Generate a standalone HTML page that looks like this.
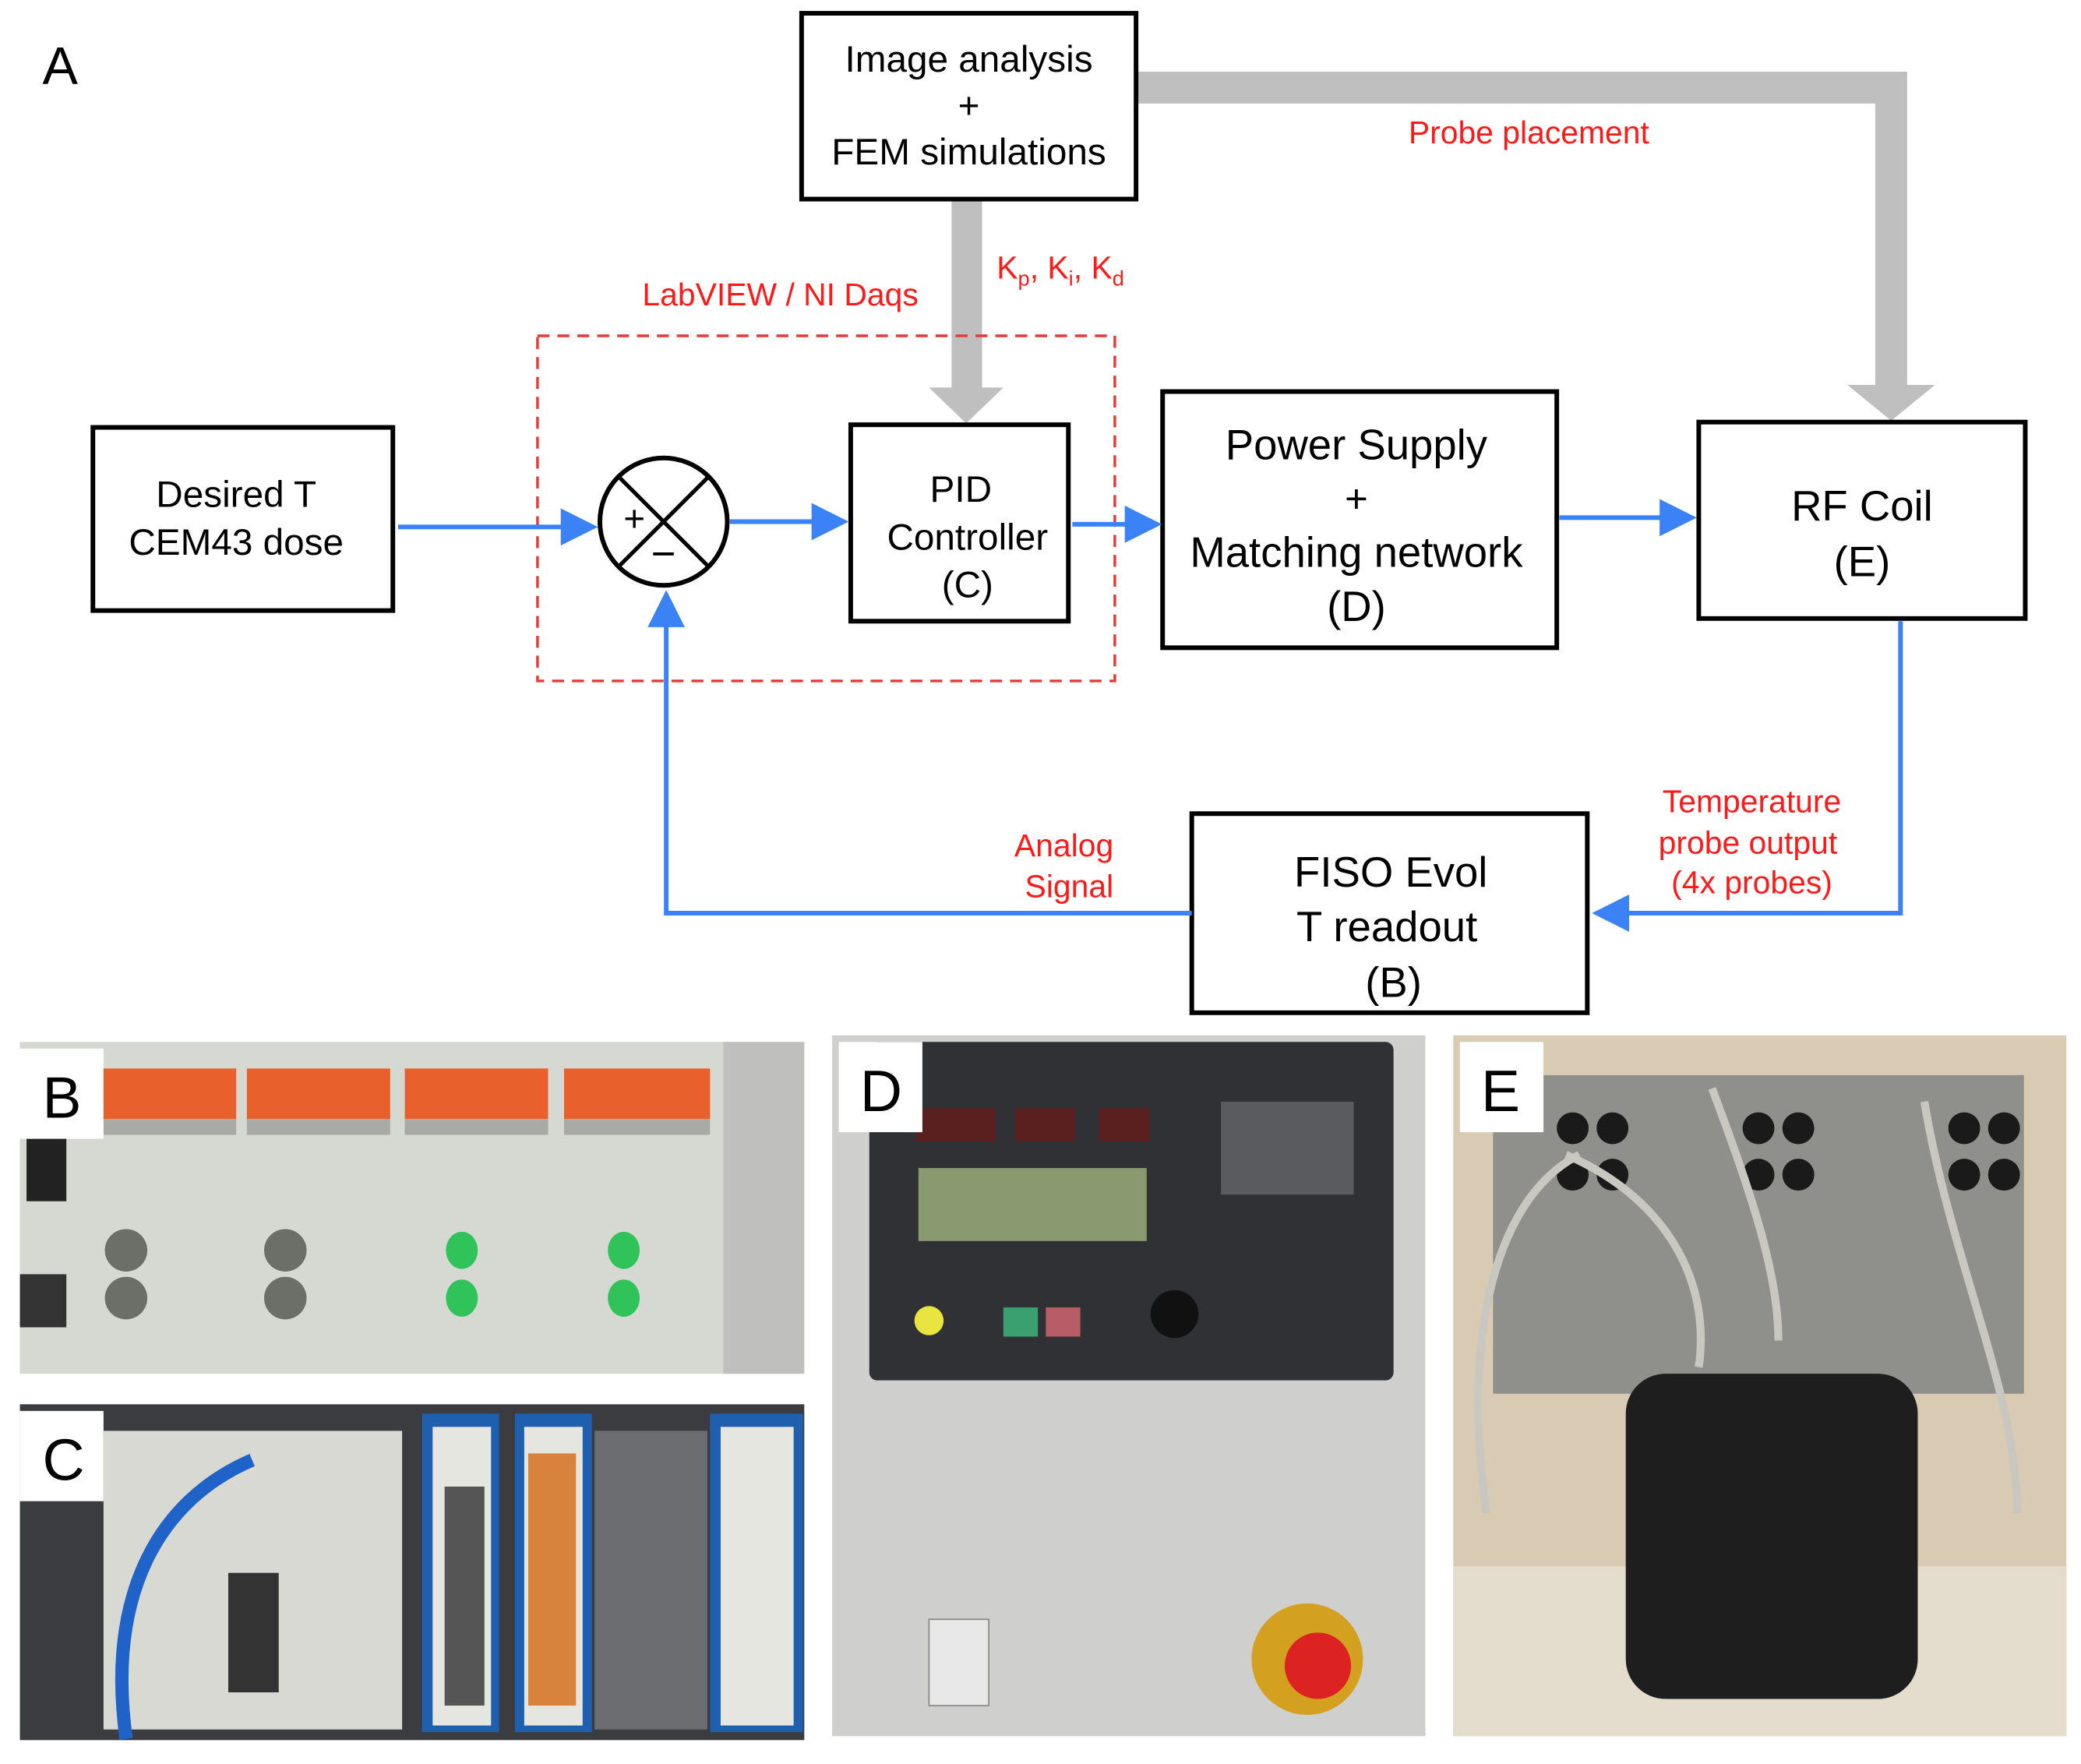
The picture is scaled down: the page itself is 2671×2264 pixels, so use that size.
<!DOCTYPE html>
<html><head><meta charset="utf-8"><style>html,body{margin:0;padding:0;background:#fff}svg{display:block}</style></head><body>
<svg width="2671" height="2264" viewBox="0 0 1568 1329" preserveAspectRatio="none" xmlns="http://www.w3.org/2000/svg" font-family="Liberation Sans, Arial, sans-serif">
<defs>
<marker id="bl" markerWidth="8" markerHeight="8" refX="7" refY="4" orient="auto" markerUnits="strokeWidth"><path d="M0,0 L8,4 L0,8 z" fill="#3b82f6"/></marker>
</defs>
<text x="32" y="63" font-size="40">A</text>
<path d="M856,66 H1425 V292" fill="none" stroke="#bfbfbf" stroke-width="24"/>
<polygon points="1392,290 1458,290 1425,317" fill="#bfbfbf"/>
<rect x="717" y="150" width="23" height="145" fill="#bfbfbf"/>
<polygon points="700,292 756,292 728,319" fill="#bfbfbf"/>
<g fill="#fff" stroke="#000" stroke-width="3.5">
<rect x="604" y="10" width="252" height="140"/>
<rect x="70" y="322" width="226" height="138"/>
<rect x="641" y="320" width="164" height="148"/>
<rect x="876" y="295" width="297" height="193"/>
<rect x="1280" y="318" width="246" height="148"/>
<rect x="898" y="613" width="298" height="150"/>
<circle cx="500" cy="393" r="48"/>
</g>
<line x1="466" y1="359" x2="534" y2="427" stroke="#000" stroke-width="3"/>
<line x1="534" y1="359" x2="466" y2="427" stroke="#000" stroke-width="3"/>
<text x="478" y="400" font-size="28" text-anchor="middle">+</text>
<text x="500" y="428" font-size="32" text-anchor="middle">−</text>
<rect x="405" y="253" width="435" height="260" fill="none" stroke="#e53935" stroke-width="2" stroke-dasharray="9,6"/>
<g stroke="#3b82f6" stroke-width="3.5" fill="none">
<line x1="300" y1="397" x2="447" y2="397" marker-end="url(#bl)"/>
<line x1="550" y1="393" x2="636" y2="393" marker-end="url(#bl)"/>
<line x1="808" y1="395" x2="872" y2="395" marker-end="url(#bl)"/>
<line x1="1175" y1="390" x2="1275" y2="390" marker-end="url(#bl)"/>
<polyline points="1432,468 1432,688 1203,688" marker-end="url(#bl)"/>
<polyline points="898,688 502,688 502,448" marker-end="url(#bl)"/>
</g>
<g font-size="28" text-anchor="middle">
<text x="730" y="54">Image analysis</text><text x="730" y="89">+</text><text x="730" y="124">FEM simulations</text>
<text x="178" y="382">Desired T</text><text x="178" y="418">CEM43 dose</text>
<text x="724" y="378">PID</text><text x="729" y="414">Controller</text><text x="729" y="450">(C)</text>
<text x="1022" y="346" font-size="32">Power Supply</text><text x="1022" y="386" font-size="30">+</text><text x="1022" y="427" font-size="32">Matching network</text><text x="1022" y="468" font-size="32">(D)</text>
<text x="1403" y="392" font-size="32">RF Coil</text><text x="1403" y="434" font-size="32">(E)</text>
<text x="1048" y="668" font-size="32">FISO Evol</text><text x="1045" y="709" font-size="32">T readout</text><text x="1050" y="751" font-size="32">(B)</text>
</g>
<g fill="#ff1a1a" font-size="24">
<text x="1152" y="108" text-anchor="middle">Probe placement</text>
<text x="751" y="210">K<tspan font-size="16" dy="5">p</tspan><tspan dy="-5">, K</tspan><tspan font-size="16" dy="5">i</tspan><tspan dy="-5">, K</tspan><tspan font-size="16" dy="5">d</tspan></text>
<text x="588" y="230" text-anchor="middle">LabVIEW / NI Daqs</text>
<g text-anchor="middle"><text x="1320" y="612">Temperature</text><text x="1317" y="643">probe output</text><text x="1320" y="673">(4x probes)</text></g>
<g text-anchor="end"><text x="839" y="645">Analog</text><text x="839" y="676">Signal</text></g>
</g>
<!-- Photo B -->
<rect x="15" y="785" width="591" height="250" fill="#d6d8d2"/>
<rect x="545" y="785" width="61" height="250" fill="#bfc0bd"/>
<g fill="#e8612c"><rect x="70" y="805" width="108" height="38"/><rect x="186" y="805" width="108" height="38"/><rect x="305" y="805" width="108" height="38"/><rect x="425" y="805" width="110" height="38"/></g>
<g fill="#a9aaa6"><rect x="70" y="843" width="108" height="12"/><rect x="186" y="843" width="108" height="12"/><rect x="305" y="843" width="108" height="12"/><rect x="425" y="843" width="110" height="12"/></g>
<g fill="#2fc35a"><ellipse cx="348" cy="942" rx="12" ry="14"/><ellipse cx="348" cy="978" rx="12" ry="14"/><ellipse cx="470" cy="942" rx="12" ry="14"/><ellipse cx="470" cy="978" rx="12" ry="14"/></g>
<g fill="#6b6f68"><circle cx="95" cy="942" r="16"/><circle cx="95" cy="978" r="16"/><circle cx="215" cy="942" r="16"/><circle cx="215" cy="978" r="16"/></g>
<rect x="20" y="850" width="30" height="55" fill="#222"/>
<rect x="15" y="960" width="35" height="40" fill="#333"/>
<!-- Photo C -->
<rect x="15" y="1058" width="591" height="253" fill="#3a3c40"/>
<rect x="78" y="1078" width="225" height="225" fill="#d9d9d4"/>
<rect x="318" y="1065" width="58" height="240" fill="#1f5fb0"/><rect x="326" y="1075" width="44" height="225" fill="#e6e6e0"/>
<rect x="388" y="1065" width="58" height="240" fill="#1f5fb0"/><rect x="395" y="1075" width="44" height="225" fill="#e6e6e0"/>
<rect x="398" y="1095" width="36" height="190" fill="#d9823b"/>
<rect x="335" y="1120" width="30" height="165" fill="#555"/>
<rect x="448" y="1078" width="85" height="225" fill="#6b6d70"/>
<rect x="535" y="1065" width="70" height="240" fill="#1f5fb0"/><rect x="543" y="1075" width="55" height="225" fill="#e6e6e0"/>
<path d="M95,1310 C80,1200 120,1130 190,1100" stroke="#1f63c9" stroke-width="10" fill="none"/>
<rect x="172" y="1185" width="38" height="90" fill="#333"/>
<!-- Photo D -->
<rect x="627" y="780" width="447" height="528" fill="#cfcfcd"/>
<rect x="655" y="785" width="395" height="255" rx="6" fill="#2f3134"/>
<rect x="692" y="880" width="172" height="55" fill="#8a9a70"/>
<g fill="#5a2020"><rect x="690" y="835" width="60" height="25"/><rect x="765" y="835" width="45" height="25"/><rect x="828" y="835" width="38" height="25"/></g>
<g fill="#ddd"><rect x="920" y="830" width="100" height="70" opacity="0.25"/></g>
<circle cx="700" cy="995" r="11" fill="#e8e440"/>
<rect x="756" y="985" width="26" height="22" fill="#3aa070"/><rect x="788" y="985" width="26" height="22" fill="#b85c68"/>
<circle cx="885" cy="990" r="18" fill="#111"/>
<rect x="700" y="1220" width="45" height="65" fill="#e8e8e8" stroke="#888"/>
<circle cx="985" cy="1250" r="42" fill="#d4a020"/><circle cx="993" cy="1255" r="25" fill="#d22"/>
<!-- Photo E -->
<rect x="1095" y="780" width="462" height="528" fill="#d9cbb3"/>
<rect x="1125" y="810" width="400" height="240" fill="#8f8f8c"/>
<g fill="#1a1a1a"><circle cx="1185" cy="850" r="12"/><circle cx="1215" cy="850" r="12"/><circle cx="1185" cy="885" r="12"/><circle cx="1215" cy="885" r="12"/><circle cx="1325" cy="850" r="12"/><circle cx="1355" cy="850" r="12"/><circle cx="1325" cy="885" r="12"/><circle cx="1355" cy="885" r="12"/><circle cx="1480" cy="850" r="12"/><circle cx="1510" cy="850" r="12"/><circle cx="1480" cy="885" r="12"/><circle cx="1510" cy="885" r="12"/></g>
<rect x="1095" y="1180" width="462" height="128" fill="#e4dccc"/>
<g stroke="#c8c8c0" stroke-width="6" fill="none"><path d="M1120,1140 C1100,1000 1130,900 1190,870"/><path d="M1180,870 C1250,900 1290,960 1280,1030"/><path d="M1290,820 C1320,900 1340,960 1340,1010"/><path d="M1450,830 C1470,950 1520,1050 1520,1140"/></g>
<rect x="1225" y="1035" width="220" height="245" rx="30" fill="#1e1e1e"/>
<g fill="#fff"><rect x="15" y="790" width="63" height="68"/><rect x="15" y="1063" width="63" height="68"/><rect x="632" y="785" width="63" height="68"/><rect x="1100" y="785" width="63" height="68"/></g>
<g font-size="44"><text x="32" y="842">B</text><text x="32" y="1115">C</text><text x="648" y="837">D</text><text x="1116" y="837">E</text></g>
</svg>
</body></html>
